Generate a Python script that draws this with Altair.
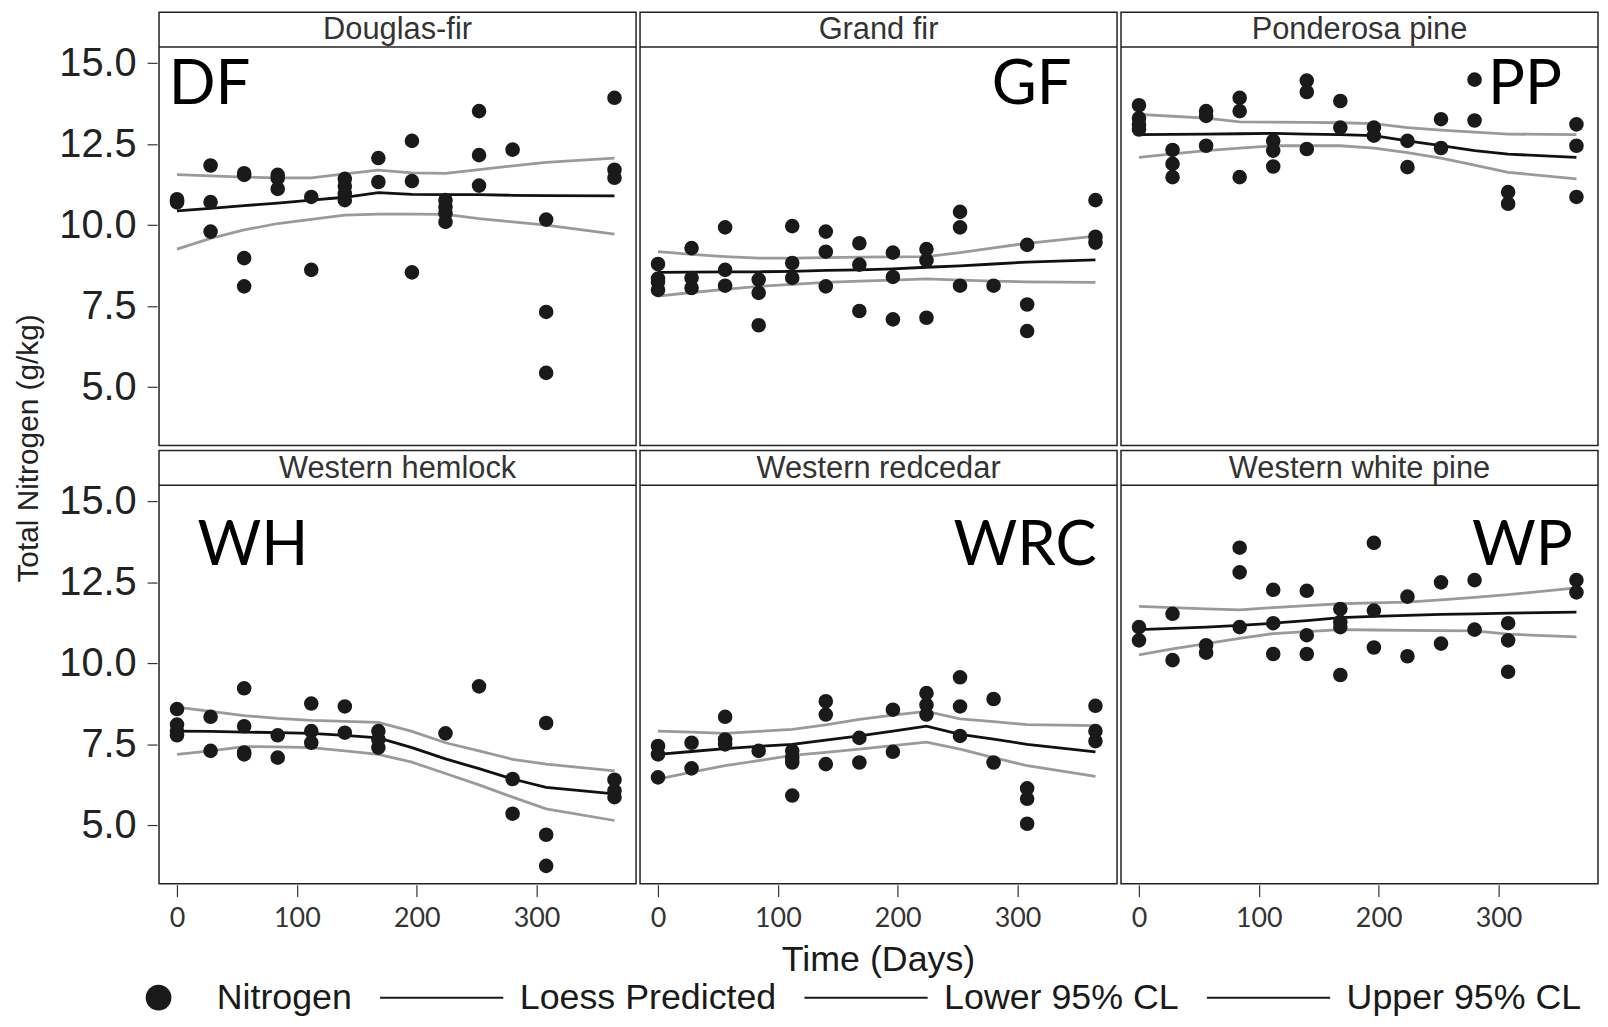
import altair as alt
import pandas as pd

species = ["Douglas-fir", "Grand fir", "Ponderosa pine",
           "Western hemlock", "Western redcedar", "Western white pine"]
abbrev = ["DF", "GF", "PP", "WH", "WRC", "WP"]
panel_row = [1, 1, 1, 2, 2, 2]
panel_col = [1, 2, 3, 1, 2, 3]
days = [0, 28, 56, 84, 112, 140, 168, 196, 224, 252, 280, 308, 365]
legend_items = ["Nitrogen", "Loess Predicted", "Lower 95% CL", "Upper 95% CL"]

# observed total nitrogen (g/kg), one list per sampling day
obs_DF = [[10.8, 10.75, 10.7], [11.84, 10.71, 9.80], [11.6, 11.55, 8.98, 8.11],
          [11.55, 11.45, 11.12], [10.87, 8.62], [11.43, 11.2, 10.97, 10.77],
          [12.07, 11.33], [12.60, 11.36, 8.54], [10.77, 10.56, 10.36, 10.10],
          [13.52, 12.16, 11.22], [12.33], [10.17, 7.32, 5.44], [13.93, 11.71, 11.46]]
obs_GF = [[8.8, 8.35, 8.25, 8.0], [9.29, 8.37, 8.06], [9.93, 8.62, 8.13],
          [8.32, 7.91, 6.91], [9.97, 8.83, 8.37], [9.80, 9.18, 8.11],
          [9.44, 8.78, 7.35], [9.15, 8.40, 7.09], [9.26, 8.91, 7.14],
          [10.41, 9.93, 8.13], [8.13], [9.39, 7.55, 6.73], [10.77, 9.64, 9.46]]
obs_PP = [[13.7, 13.3, 13.1, 12.95], [12.32, 11.89, 11.48], [13.52, 13.37, 12.45],
          [13.93, 13.52, 11.48], [12.60, 12.30, 11.81], [14.46, 14.11, 12.35],
          [13.83, 13.01], [13.01, 12.76], [12.60, 11.79], [13.27, 12.38],
          [14.49, 13.23], [11.02, 10.66], [13.11, 12.45, 10.87]]
obs_WH = [[8.59, 8.11, 7.91, 7.78], [8.35, 7.30], [9.23, 8.06, 7.25, 7.19],
          [7.78, 7.09], [8.76, 7.91, 7.55], [8.67, 7.86], [7.91, 7.65, 7.40],
          [], [7.84], [9.29], [6.43, 5.36], [8.16, 4.71, 3.75], [6.41, 6.07, 5.87]]
obs_WRC = [[7.45, 7.19, 6.48], [7.55, 6.76], [8.35, 7.65, 7.50], [7.30],
           [7.30, 7.09, 6.94, 5.92], [8.83, 8.42, 6.89], [7.70, 6.94], [8.57, 7.27],
           [9.08, 8.72, 8.42], [9.57, 8.67, 7.76], [8.90, 6.94], [6.14, 5.82, 5.05],
           [8.69, 7.91, 7.60]]
obs_WP = [[11.12, 10.71], [11.53, 10.10], [10.56, 10.33], [13.57, 12.81, 11.12],
          [12.27, 11.24, 10.29], [12.24, 10.87, 10.29], [11.68, 11.28, 11.12, 9.64],
          [13.72, 11.63, 10.49], [12.06, 10.22], [12.50, 10.61], [12.57, 11.04],
          [11.24, 10.71, 9.74], [12.57, 12.19]]

# loess predicted and 95% confidence limits at each sampling day
loess_DF = [10.44, 10.52, 10.6, 10.68, 10.77, 10.86, 11.0, 10.95, 10.94, 10.94, 10.92, 10.91, 10.9]
lower_DF = [9.26, 9.59, 9.85, 10.05, 10.18, 10.31, 10.34, 10.34, 10.33, 10.2, 10.1, 10.0, 9.72]
upper_DF = [11.56, 11.52, 11.48, 11.46, 11.46, 11.58, 11.70, 11.61, 11.6, 11.71, 11.83, 11.94, 12.07]
loess_GF = [8.54, 8.55, 8.56, 8.56, 8.57, 8.6, 8.62, 8.65, 8.70, 8.74, 8.8, 8.86, 8.93]
lower_GF = [7.81, 7.92, 8.02, 8.11, 8.17, 8.23, 8.27, 8.3, 8.34, 8.3, 8.27, 8.25, 8.23]
upper_GF = [9.18, 9.1, 9.03, 8.98, 8.98, 9.0, 9.01, 9.02, 9.03, 9.15, 9.3, 9.44, 9.66]
loess_PP = [12.79, 12.8, 12.81, 12.82, 12.83, 12.81, 12.79, 12.76, 12.6, 12.45, 12.3, 12.19, 12.09]
lower_PP = [12.09, 12.2, 12.3, 12.38, 12.45, 12.45, 12.45, 12.38, 12.24, 12.07, 11.85, 11.63, 11.43]
upper_PP = [13.42, 13.36, 13.30, 13.19, 13.18, 13.17, 13.16, 13.13, 13.01, 12.93, 12.87, 12.81, 12.79]
loess_WH = [7.91, 7.9, 7.88, 7.86, 7.84, 7.78, 7.70, 7.40, 7.05, 6.75, 6.43, 6.17, 5.97]
lower_WH = [7.19, 7.3, 7.43, 7.42, 7.40, 7.3, 7.19, 6.95, 6.6, 6.25, 5.87, 5.51, 5.15]
upper_WH = [8.65, 8.52, 8.39, 8.3, 8.24, 8.21, 8.18, 7.9, 7.55, 7.3, 7.04, 6.89, 6.68]
loess_WRC = [7.19, 7.28, 7.37, 7.44, 7.50, 7.63, 7.76, 7.91, 8.06, 7.81, 7.66, 7.50, 7.27]
lower_WRC = [6.43, 6.64, 6.84, 7.0, 7.16, 7.25, 7.35, 7.46, 7.57, 7.35, 7.09, 6.84, 6.51]
upper_WRC = [7.91, 7.88, 7.84, 7.9, 7.96, 8.1, 8.27, 8.4, 8.52, 8.29, 8.2, 8.11, 8.08]
loess_WP = [11.04, 11.08, 11.12, 11.17, 11.24, 11.32, 11.41, 11.45, 11.48, 11.51, 11.53, 11.55, 11.58]
lower_WP = [10.26, 10.45, 10.61, 10.77, 10.92, 10.98, 11.04, 11.03, 11.02, 11.01, 11.0, 10.9, 10.82]
upper_WP = [11.76, 11.72, 11.68, 11.65, 11.72, 11.78, 11.84, 11.87, 11.89, 11.96, 12.04, 12.12, 12.33]

obs = {"DF": obs_DF, "GF": obs_GF, "PP": obs_PP, "WH": obs_WH, "WRC": obs_WRC, "WP": obs_WP}
loess = {"DF": loess_DF, "GF": loess_GF, "PP": loess_PP, "WH": loess_WH, "WRC": loess_WRC, "WP": loess_WP}
lower = {"DF": lower_DF, "GF": lower_GF, "PP": lower_PP, "WH": lower_WH, "WRC": lower_WRC, "WP": lower_WP}
upper = {"DF": upper_DF, "GF": upper_GF, "PP": upper_PP, "WH": upper_WH, "WRC": upper_WRC, "WP": upper_WP}

# annotation anchors for the panel abbreviations (day, value, alignment)
abbr_day = [-7, 345, 353, 17, 366, 362]
abbr_val = [13.75, 13.75, 13.75, 13.05, 13.05, 13.05]
abbr_align = ["left", "right", "right", "left", "right", "right"]

# ---- layout constants
W = 480          # panel width
S = 35           # strip height
P = 401          # plot height below strip
H = S + P
Y0, Y1 = 3.2, 15.5
YTOP = Y1 + S * (Y1 - Y0) / P

rows = []
for i, ab in enumerate(abbrev):
    base = dict(species=species[i], prow=panel_row[i], pcol=panel_col[i])
    for d, vals in zip(days, obs[ab]):
        for v in vals:
            rows.append(dict(base, kind="pt", day=d, value=v, series="Nitrogen"))
    for sname, arr in (("Loess Predicted", loess[ab]), ("Lower 95% CL", lower[ab]),
                       ("Upper 95% CL", upper[ab])):
        for d, v in zip(days, arr):
            rows.append(dict(base, kind="line", day=d, value=v, series=sname))
    rows.append(dict(base, kind="strip"))
    rows.append(dict(base, kind="abbr", day=abbr_day[i], value=abbr_val[i],
                     text=ab, align=abbr_align[i]))
data = pd.DataFrame(rows)

x_enc = alt.X("day:Q", scale=alt.Scale(domain=[-15, 383], nice=False, zero=False),
              axis=alt.Axis(values=[0, 100, 200, 300], title=None, labelFont="Lato",
                            labelFontSize=27, labelColor="#333", labelPadding=9,
                            tickSize=12, tickColor="#333", tickWidth=1.2,
                            domain=False, grid=False))
y_enc = alt.Y("value:Q", scale=alt.Scale(domain=[Y0, YTOP], nice=False, zero=False),
              axis=alt.Axis(values=[5, 7.5, 10, 12.5, 15], format=".1f", title=None,
                            labelFont="Liberation Sans", labelFontSize=40,
                            labelColor="#222", labelPadding=11, tickSize=10,
                            tickColor="#333", tickWidth=1.2, domain=False, grid=False))

# legend / point symbols: custom paths (scaled by sqrt(size)/2)
circle_path = "M-0.72,0A0.72,0.72 0 1,0 0.72,0A0.72,0.72 0 1,0 -0.72,0Z"
line_path = "M-4.56,-0.06L2.33,-0.06L2.33,0.06L-4.56,0.06Z"

base = alt.Chart()

cl_lines = base.transform_filter(
    "datum.kind == 'line' && datum.series != 'Loess Predicted'"
).mark_line(color="#9a9a9a", strokeWidth=2.8).encode(
    x=x_enc, y=y_enc, detail="series:N", order="day:Q")

loess_line = base.transform_filter(
    "datum.kind == 'line' && datum.series == 'Loess Predicted'"
).mark_line(color="#111", strokeWidth=2.8).encode(x=x_enc, y=y_enc, order="day:Q")

points = base.transform_filter("datum.kind == 'pt'").mark_point(
    filled=False, opacity=1, color="#1a1a1a", fill="#1a1a1a", strokeWidth=2.2, size=301
).encode(
    x=x_enc, y=y_enc,
    shape=alt.Shape("series:N",
                    scale=alt.Scale(domain=legend_items,
                                    range=[circle_path, line_path, line_path, line_path]),
                    legend=alt.Legend(title=None, orient="none", legendX=-19, legendY=973,
                                      direction="horizontal", columns=4, symbolSize=1296,
                                      symbolStrokeColor="#111", symbolFillColor="#111",
                                      symbolStrokeWidth=1, symbolOpacity=1,
                                      labelFont="Liberation Sans", labelFontSize=36,
                                      labelColor="#1a1a1a", labelOffset=40,
                                      columnPadding=25, padding=0, labelLimit=400)))

strip_rule = base.transform_filter("datum.kind == 'strip'").mark_rule(
    color="#222", strokeWidth=1.5
).encode(x=alt.value(0), x2=alt.value(W), y=alt.value(S))

strip_text = base.transform_filter("datum.kind == 'strip'").mark_text(
    font="Liberation Sans", fontSize=31, color="#333", baseline="middle"
).encode(x=alt.value(W / 2), y=alt.value(S / 2 + 1), text="species:N")

abbr_left = base.transform_filter("datum.kind == 'abbr' && datum.align == 'left'").mark_text(
    font="Lato", fontSize=62, color="black", align="left", baseline="alphabetic"
).encode(x=x_enc, y=y_enc, text="text:N")

abbr_right = base.transform_filter("datum.kind == 'abbr' && datum.align == 'right'").mark_text(
    font="Lato", fontSize=62, color="black", align="right", baseline="alphabetic"
).encode(x=x_enc, y=y_enc, text="text:N")

layered = alt.layer(cl_lines, loess_line, points, strip_rule, strip_text,
                    abbr_left, abbr_right).properties(width=W, height=H)

chart = layered.facet(
    data=data,
    row=alt.Row("prow:O", title="Total Nitrogen (g/kg)",
                header=alt.Header(labels=False, titleFont="Liberation Sans",
                                  titleFontSize=30, titleFontWeight="normal",
                                  titleColor="#222", titlePadding=5)),
    column=alt.Column("pcol:O", title="Time (Days)",
                      header=alt.Header(labels=False, titleOrient="bottom",
                                        titleFont="Liberation Sans", titleFontSize=36,
                                        titleFontWeight="normal", titleColor="#1a1a1a",
                                        titlePadding=2)),
    spacing={"row": 3, "column": 0},
).properties(
    padding={"left": 5, "top": 0, "right": 0, "bottom": 0}
).configure_view(
    stroke="#222", strokeWidth=1.5
)

chart.save("out.html", embed_options={"renderer": "svg", "actions": False})
